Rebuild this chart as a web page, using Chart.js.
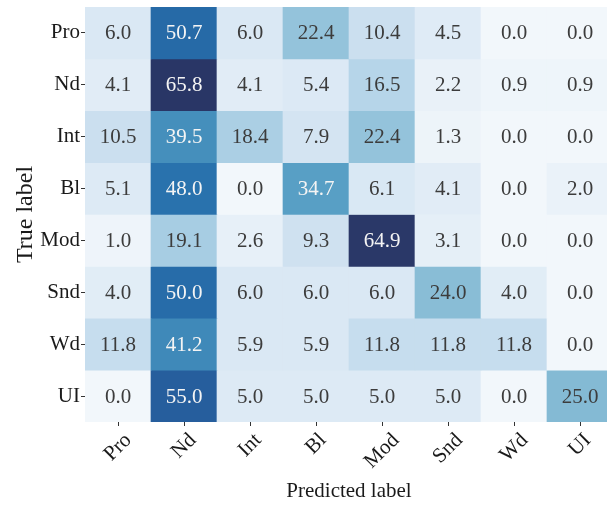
<!DOCTYPE html>
<html>
<head>
<meta charset="utf-8">
<script src="https://cdn.jsdelivr.net/npm/chart.js@4/dist/chart.umd.min.js"></script>
<style>
  html, body { margin: 0; padding: 0; background: #ffffff; overflow: hidden; }
  #wrap { width: 607px; height: 506px; overflow: hidden; position: relative; }
  canvas { display: block; }
</style>
</head>
<body>
<div id="wrap"><canvas id="cm" width="625" height="506"></canvas></div>
<script>
// Class names for both axes
const predictedLabels = ['Pro', 'Nd', 'Int', 'Bl', 'Mod', 'Snd', 'Wd', 'UI'];
const trueLabels = ['Pro', 'Nd', 'Int', 'Bl', 'Mod', 'Snd', 'Wd', 'UI'];

// Row-normalised confusion matrix (%), one array per true label
const rowPro = [6.0, 50.7, 6.0, 22.4, 10.4, 4.5, 0.0, 0.0];
const rowNd  = [4.1, 65.8, 4.1, 5.4, 16.5, 2.2, 0.9, 0.9];
const rowInt = [10.5, 39.5, 18.4, 7.9, 22.4, 1.3, 0.0, 0.0];
const rowBl  = [5.1, 48.0, 0.0, 34.7, 6.1, 4.1, 0.0, 2.0];
const rowMod = [1.0, 19.1, 2.6, 9.3, 64.9, 3.1, 0.0, 0.0];
const rowSnd = [4.0, 50.0, 6.0, 6.0, 6.0, 24.0, 4.0, 0.0];
const rowWd  = [11.8, 41.2, 5.9, 5.9, 11.8, 11.8, 11.8, 0.0];
const rowUI  = [0.0, 55.0, 5.0, 5.0, 5.0, 5.0, 0.0, 25.0];

const matrix = [rowPro, rowNd, rowInt, rowBl, rowMod, rowSnd, rowWd, rowUI];

// Sequential blue colour map (position 0..1 -> rgb)
const blueStops = [
  [0.000, [242, 247, 251]],
  [0.076, [221, 234, 245]],
  [0.160, [203, 223, 239]],
  [0.250, [182, 213, 233]],
  [0.340, [148, 195, 219]],
  [0.365, [137, 189, 214]],
  [0.527, [ 88, 159, 197]],
  [0.600, [ 69, 143, 188]],
  [0.730, [ 41, 114, 173]],
  [0.770, [ 38, 106, 167]],
  [0.836, [ 38,  94, 157]],
  [0.986, [ 42,  56, 104]],
  [1.000, [ 41,  54, 102]]
];

const vMax = Math.max(...matrix.flat());

function blueRGB(v) {
  const t = Math.min(1, Math.max(0, v / vMax));
  for (let k = 1; k < blueStops.length; k++) {
    const [t1, c1] = blueStops[k];
    const [t0, c0] = blueStops[k - 1];
    if (t <= t1) {
      const f = (t - t0) / (t1 - t0);
      return c0.map((c, i) => Math.round(c + (c1[i] - c) * f));
    }
  }
  return blueStops[blueStops.length - 1][1];
}
const rgbStr = c => `rgb(${c[0]},${c[1]},${c[2]})`;
const isDark = c => (0.299 * c[0] + 0.587 * c[1] + 0.114 * c[2]) < 160;

// One floating-bar dataset per true-label row: each cell spans [row, row + 1]
const datasets = trueLabels.map((name, r) => ({
  label: name,
  data: predictedLabels.map(() => [r, r + 1]),
  backgroundColor: matrix[r].map(v => rgbStr(blueRGB(v))),
  borderWidth: 0,
  grouped: false,
  barPercentage: 1,
  categoryPercentage: 1
}));

const FONT = "'Liberation Serif', 'Times New Roman', serif";
const FSIZE = 21;

// Writes each cell's percentage in its centre
const cellText = {
  id: 'cellText',
  afterDatasetsDraw(chart) {
    const ctx = chart.ctx;
    ctx.save();
    ctx.font = `${FSIZE}px ${FONT}`;
    ctx.textAlign = 'center';
    ctx.textBaseline = 'middle';
    chart.data.datasets.forEach((ds, r) => {
      const meta = chart.getDatasetMeta(r);
      meta.data.forEach((bar, c) => {
        const v = matrix[r][c];
        ctx.fillStyle = isDark(blueRGB(v)) ? '#f4f4f4' : '#3c3c3c';
        ctx.fillText(v.toFixed(1), bar.x, (bar.y + bar.base) / 2 + 1);
      });
    });
    ctx.restore();
  }
};

// Predicted-label ticks: rotated 45 degrees, box centred under each tick
const xTickText = {
  id: 'xTickText',
  afterDraw(chart) {
    const ctx = chart.ctx;
    const xs = chart.scales.x;
    const top = chart.chartArea.bottom + 8;
    ctx.save();
    ctx.font = `${FSIZE}px ${FONT}`;
    ctx.fillStyle = '#1a1a1a';
    ctx.textAlign = 'center';
    ctx.textBaseline = 'middle';
    xs.ticks.forEach((t, i) => {
      const label = predictedLabels[i];
      const w = ctx.measureText(label).width;
      const half = (w + 20) * Math.SQRT1_2 / 2;
      ctx.save();
      ctx.translate(xs.getPixelForTick(i), top + half);
      ctx.rotate(-Math.PI / 4);
      ctx.fillText(label, 0, 0);
      ctx.restore();
    });
    ctx.restore();
  }
};

new Chart(document.getElementById('cm'), {
  type: 'bar',
  data: { labels: predictedLabels, datasets },
  options: {
    responsive: false,
    animation: false,
    layout: { padding: { top: 7, right: 12, bottom: 0, left: 0 } },
    plugins: { legend: { display: false }, tooltip: { enabled: false } },
    scales: {
      x: {
        type: 'category',
        offset: true,
        border: { display: false },
        grid: { drawOnChartArea: false, drawTicks: true, tickLength: 4, color: '#333333', lineWidth: 1, offset: false },
        ticks: { display: false },
        title: { display: true, text: 'Predicted label', color: '#1a1a1a', font: { family: FONT, size: FSIZE }, padding: { top: 0, bottom: 2 } },
        afterFit: s => { s.height = 84; s.paddingLeft = 0; s.paddingRight = 0; }
      },
      y: {
        type: 'linear',
        min: 0,
        max: trueLabels.length,
        reverse: true,
        border: { display: false },
        grid: { drawOnChartArea: false, drawTicks: true, tickLength: 4, color: '#333333', lineWidth: 1 },
        afterBuildTicks: s => { s.ticks = trueLabels.map((_, i) => ({ value: i + 0.5 })); },
        ticks: {
          padding: 1,
          color: '#1a1a1a',
          font: { family: FONT, size: FSIZE },
          callback: v => trueLabels[Math.floor(v)]
        },
        title: { display: true, text: 'True label', color: '#1a1a1a', font: { family: FONT, size: 24 }, padding: { top: 11, bottom: 0 } },
        afterFit: s => { s.width = 85; s.paddingTop = 0; s.paddingBottom = 0; }
      }
    }
  },
  plugins: [cellText, xTickText]
});
</script>
</body>
</html>
